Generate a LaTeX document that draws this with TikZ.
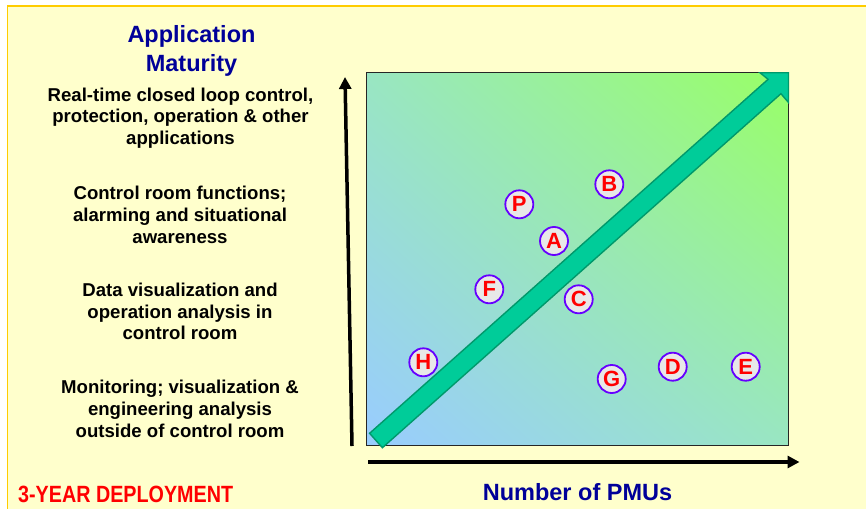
\documentclass[tikz,border=0pt]{standalone}
\usepackage{fontspec}
\setmainfont{Liberation Sans}
\usetikzlibrary{arrows.meta,calc,shadings}
\definecolor{bgyel}{HTML}{FFFFCC}
\definecolor{bordyel}{HTML}{FFCC00}
\definecolor{gblue}{HTML}{99CCFF}
\definecolor{ggreen}{HTML}{99FF66}
\definecolor{gmid}{HTML}{99E6C2}
\definecolor{arrfill}{HTML}{00CC99}
\definecolor{arrline}{HTML}{00996B}
\definecolor{titleblue}{HTML}{000099}
\definecolor{circline}{HTML}{6600FF}
\definecolor{circfill}{HTML}{E8E8E8}
\definecolor{dred}{HTML}{FF0000}
\tikzset{
  ptmark/.style={circle, draw=circline, fill=circfill, line width=1.8pt,
    minimum size=28pt, inner sep=0pt, text=dred,
    font=\fontsize{22}{22}\selectfont\bfseries},
  axisarrow/.style={line width=3.5pt, -{Triangle[length=12pt,width=12pt]}},
  bodytext/.style={align=center, text=black,
    font=\fontsize{18.6}{21.7}\selectfont\bfseries},
  titletext/.style={align=center, text=titleblue,
    font=\fontsize{23.5}{29}\selectfont\bfseries},
  bigarrow/.style={fill=arrfill, draw=arrline, line width=1.4pt, line join=miter}
}
\begin{document}
\begin{tikzpicture}[x=1pt,y=-1pt]
\useasboundingbox (0,0) rectangle (866,508);
\clip (0,0) rectangle (866,508);
\fill[white] (0,0) rectangle (866,508);
\draw[bordyel, fill=bgyel, line width=1.2pt] (7.5,6) rectangle (900,560);

% plot area
\node (plot) [rectangle, draw=black!85, line width=1pt, minimum width=422pt,
  minimum height=373pt, inner sep=0pt,
  lower left=gblue, upper right=ggreen, upper left=gmid, lower right=gmid]
  at (577.2,259.2) {};

% big diagonal arrow
\coordinate (a1) at (369.6,433.3);
\coordinate (a2) at (382.4,447.7);
\coordinate (a3) at (780.9,93.7);
\coordinate (a4) at (788.5,102.5);
\coordinate (a5) at (788.5,72.8);
\coordinate (a6) at (760,72.8);
\coordinate (a7) at (768.1,79.3);
\draw[bigarrow] (a1) -- (a2) -- (a3) -- (a4) -- (a5) -- (a6) -- (a7) -- cycle;

% axes
\coordinate (yb) at (352,446);
\coordinate (yt) at (345,77);
\coordinate (xl) at (368,462);
\coordinate (xr) at (799.5,462);
\draw[axisarrow] (yb) -- (yt);
\draw[axisarrow] (xl) -- (xr);

% points
\node[ptmark] (P) at (519.3,204.3) {P};
\node[ptmark] (B) at (609.3,184.3) {B};
\node[ptmark] (A) at (554,241) {A};
\node[ptmark] (F) at (489.3,289.3) {F};
\node[ptmark] (C) at (578.7,299.3) {C};
\node[ptmark] (H) at (423.3,362.3) {H};
\node[ptmark] (G) at (611.7,379) {G};
\node[ptmark] (D) at (672.7,366.7) {D};
\node[ptmark] (E) at (745.7,366.7) {E};

% texts
\node[titletext] (title) at (191.5,51) {Application\\Maturity};
\node[bodytext] (t1) at (180.5,118) {Real-time closed loop control,\\protection, operation \& other\\applications};
\node[bodytext] (t2) at (180,215) {Control room functions;\\alarming and situational\\awareness};
\node[bodytext] (t3) at (180,311.5) {Data visualization and\\operation analysis in\\control room};
\node[bodytext] (t4) at (180,409) {Monitoring; visualization \&\\engineering analysis\\outside of control room};
\node[titletext] (xlab) at (577.5,492) {Number of PMUs};
\node[anchor=west, text=dred, inner sep=0pt] (dep) at (18,494)
  {\scalebox{0.84}[1]{\fontsize{23.5}{23.5}\selectfont\bfseries 3-YEAR DEPLOYMENT}};
\end{tikzpicture}
\end{document}
